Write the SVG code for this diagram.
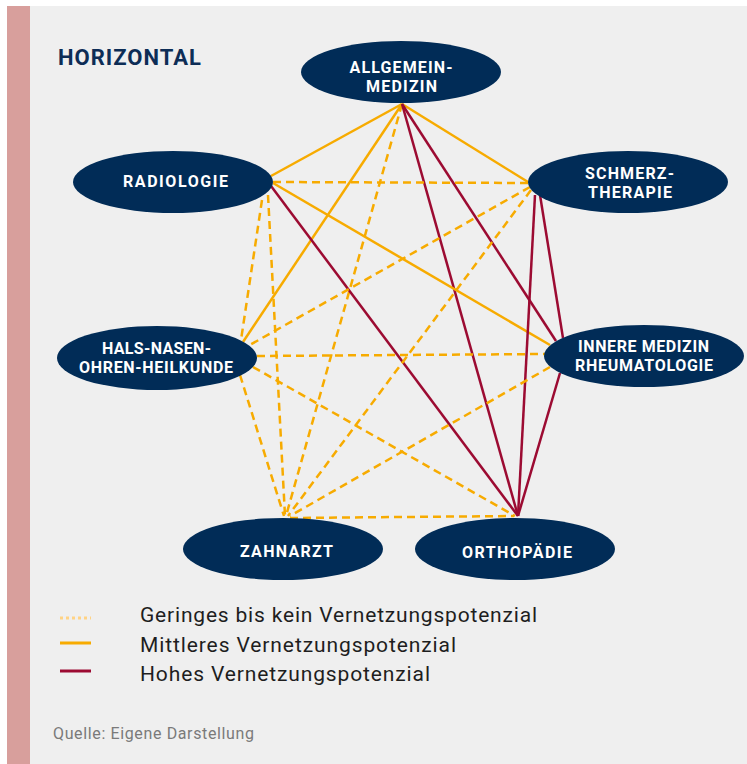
<svg xmlns="http://www.w3.org/2000/svg" width="747" height="764" viewBox="0 0 747 764">
<style>
.bg{fill:#efefef}
.bar{fill:#d89f9c}
.node{fill:#012c57}
.lbl{font-family:Roboto,"Liberation Sans",sans-serif;font-weight:700;font-size:16px;fill:#ffffff;text-anchor:middle}
.title{font-family:Roboto,"Liberation Sans",sans-serif;font-weight:700;font-size:22px;fill:#0d2d56;letter-spacing:1px}
.mid{stroke:#f7ab00;stroke-width:2.5;fill:none}
.low{stroke:#f7ab00;stroke-width:2.5;fill:none;stroke-dasharray:8 5}
.high{stroke:#9c0b32;stroke-width:2.5;fill:none}
.leg{font-family:Roboto,"Liberation Sans",sans-serif;font-size:21px;fill:#1e1e1e}
.src{font-family:Roboto,"Liberation Sans",sans-serif;font-size:16px;fill:#7a7a7a}
</style>
<rect x="0" y="0" width="747" height="764" fill="#ffffff"/>
<rect class="bg" x="7" y="6" width="740" height="758"/>
<rect class="bar" x="7" y="6" width="23" height="758"/>
<text class="title" x="58" y="65">HORIZONTAL</text>
<g id="connectors">
  <!-- Allgemeinmedizin -->
  <line class="mid" x1="402" y1="104" x2="271" y2="176"/>
  <line class="mid" x1="402" y1="104" x2="528" y2="182"/>
  <line class="mid" x1="402" y1="104" x2="243" y2="342"/>
  <line class="high" x1="402" y1="104" x2="556" y2="341"/>
  <line class="low" x1="402" y1="104" x2="286" y2="516"/>
  <line class="high" x1="402" y1="104" x2="518" y2="516"/>
  <!-- Radiologie -->
  <line class="low" x1="273" y1="182" x2="528" y2="183"/>
  <line class="low" x1="262" y1="200" x2="241" y2="340"/>
  <line class="mid" x1="273" y1="183" x2="550" y2="345"/>
  <line class="low" x1="268" y1="195" x2="285" y2="516"/>
  <line class="high" x1="271" y1="186" x2="518" y2="516"/>
  <!-- Schmerztherapie -->
  <line class="low" x1="530" y1="187" x2="248" y2="346"/>
  <line class="high" x1="540" y1="195" x2="563" y2="338"/>
  <line class="low" x1="531" y1="190" x2="288" y2="516"/>
  <line class="high" x1="535" y1="195" x2="518" y2="516"/>
  <!-- HNO -->
  <line class="low" x1="257" y1="356" x2="545" y2="354"/>
  <line class="low" x1="240" y1="375" x2="284" y2="516"/>
  <line class="low" x1="253" y1="367" x2="515" y2="516"/>
  <!-- Innere Medizin -->
  <line class="low" x1="550" y1="367" x2="290" y2="516"/>
  <line class="high" x1="560" y1="373" x2="518" y2="516"/>
  <!-- Zahnarzt - Orthopaedie -->
  <line class="low" x1="290" y1="518" x2="514" y2="516"/>
</g>
<g id="allgemeinmedizin">
  <ellipse class="node" cx="401" cy="72" rx="100" ry="31"/>
  <text class="lbl" x="401" y="73" textLength="103">ALLGEMEIN-</text>
  <text class="lbl" x="401.5" y="92" textLength="71">MEDIZIN</text>
</g>
<g id="radiologie">
  <ellipse class="node" cx="173" cy="182" rx="100" ry="31"/>
  <text class="lbl" x="175.5" y="187" textLength="105">RADIOLOGIE</text>
</g>
<g id="schmerztherapie">
  <ellipse class="node" cx="628" cy="182" rx="100" ry="31"/>
  <text class="lbl" x="629.5" y="179" textLength="89">SCHMERZ-</text>
  <text class="lbl" x="630" y="198" textLength="84">THERAPIE</text>
</g>
<g id="hno">
  <ellipse class="node" cx="157" cy="358" rx="100" ry="32"/>
  <text class="lbl" x="156.5" y="354" textLength="109">HALS-NASEN-</text>
  <text class="lbl" x="156" y="373" textLength="154">OHREN-HEILKUNDE</text>
</g>
<g id="innere-medizin">
  <ellipse class="node" cx="644" cy="356" rx="100" ry="31"/>
  <text class="lbl" x="643.5" y="352" textLength="131">INNERE MEDIZIN</text>
  <text class="lbl" x="644" y="371" textLength="138">RHEUMATOLOGIE</text>
</g>
<g id="zahnarzt">
  <ellipse class="node" cx="283" cy="549" rx="100" ry="31"/>
  <text class="lbl" x="286.5" y="557" textLength="93">ZAHNARZT</text>
</g>
<g id="orthopaedie">
  <ellipse class="node" cx="515" cy="549" rx="100" ry="31"/>
  <text class="lbl" x="517" y="558" textLength="110">ORTHOPÄDIE</text>
</g>
<g id="legend">
  <line x1="60" y1="618" x2="91" y2="618" stroke="#ffd385" stroke-width="3" stroke-dasharray="3 3"/>
  <line x1="60" y1="643" x2="91" y2="643" stroke="#f7ab00" stroke-width="3"/>
  <line x1="60" y1="671" x2="91" y2="671" stroke="#9c0b32" stroke-width="3"/>
  <text class="leg" x="140" y="622" textLength="397">Geringes bis kein Vernetzungspotenzial</text>
  <text class="leg" x="140" y="652" textLength="316">Mittleres Vernetzungspotenzial</text>
  <text class="leg" x="140" y="681" textLength="290">Hohes Vernetzungspotenzial</text>
</g>
<text class="src" x="53" y="739" textLength="201">Quelle: Eigene Darstellung</text>
</svg>
